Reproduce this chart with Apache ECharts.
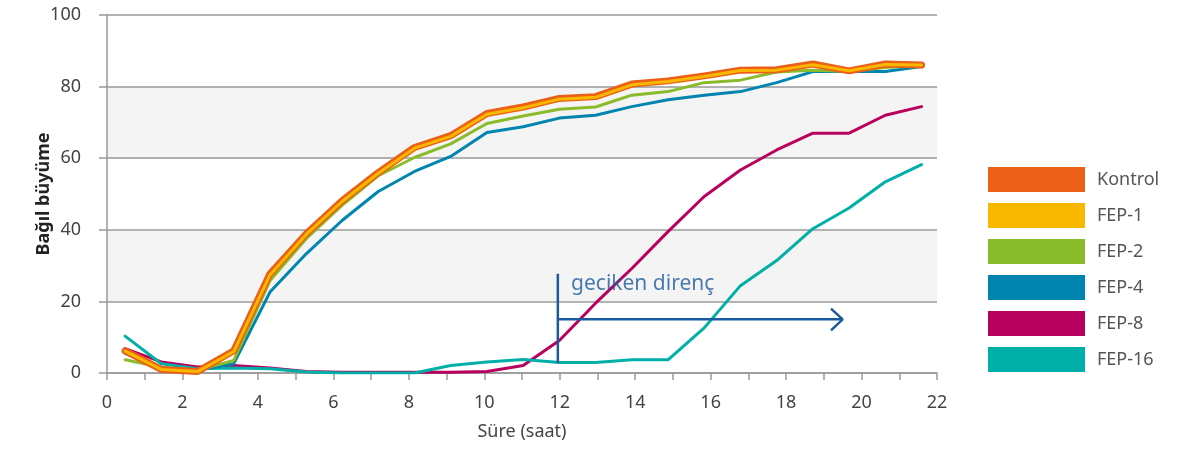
<!DOCTYPE html>
<html>
<head>
<meta charset="utf-8">
<script src="https://cdn.jsdelivr.net/npm/echarts@6/dist/echarts.min.js"></script>
<style>
  html, body { margin: 0; padding: 0; background: #fff; }
  #chart { width: 1182px; height: 450px; }
</style>
</head>
<body>
<div id="chart"></div>
<script>
// sampling times (hours)
const times = [0.48, 1.44, 2.4, 3.36, 4.32, 5.28, 6.23, 7.19, 8.15, 9.11, 10.07, 11.03,
  11.99, 12.95, 13.91, 14.87, 15.83, 16.79, 17.75, 18.71, 19.67, 20.63, 21.59];

const kontrol = [6.2, 1.0, 0.4, 6.2, 27.7, 38.9, 48.1, 56.0, 63.0, 66.3, 72.5, 74.3,
  76.7, 77.2, 80.7, 81.6, 83.0, 84.6, 84.7, 86.3, 84.4, 86.3, 86.0];
const fep1 = [6.1, 1.0, 0.4, 6.0, 27.4, 38.7, 47.9, 55.8, 62.8, 66.1, 72.3, 74.1,
  76.5, 77.0, 80.5, 81.4, 82.8, 84.5, 84.6, 86.1, 84.4, 86.2, 86.0];
const fep2 = [3.7, 1.6, 0.8, 3.5, 25.8, 37.5, 46.8, 55.1, 60.2, 64.0, 69.7, 71.8,
  73.7, 74.3, 77.6, 78.6, 81.1, 81.8, 84.1, 84.6, 84.2, 85.3, 85.8];
const fep4 = [5.5, 1.5, 0.8, 2.6, 22.6, 33.3, 42.6, 50.7, 56.3, 60.5, 67.2, 68.8,
  71.2, 72.0, 74.4, 76.3, 77.6, 78.6, 81.1, 84.2, 84.2, 84.2, 85.6];
const fep8 = [6.8, 3.1, 1.7, 2.1, 1.4, 0.4, 0.2, 0.2, 0.2, 0.2, 0.4, 2.1,
  9.1, 19.5, 29.2, 39.5, 49.3, 56.7, 62.3, 67.0, 67.0, 72.0, 74.4];
const fep16 = [10.3, 2.6, 1.2, 1.4, 1.2, 0.3, 0.0, 0.0, 0.0, 2.1, 3.1, 3.8,
  2.9, 2.9, 3.7, 3.7, 12.6, 24.4, 31.4, 40.3, 46.1, 53.4, 58.2];

const seriesNames = ['Kontrol', 'FEP-1', 'FEP-2', 'FEP-4', 'FEP-8', 'FEP-16'];
const xTicks = [0, 2, 4, 6, 8, 10, 12, 14, 16, 18, 20, 22];
const yTicks = [0, 20, 40, 60, 80, 100];

// "geciken direnç" annotation, in data units
const annStart = [[11.95, 27.7], [11.95, 2.7]];
const annArrow = [[11.95, 15.0], [19.5, 15.0]];
const annHead = [[19.19, 18.0], [19.5, 15.0], [19.19, 11.9]];
const annLabel = [[12.3, 24.8]];
const annText = 'geciken direnç';

const pairs = (ys) => ys.map((v, i) => [times[i], v]);

const colors = {
  'Kontrol': '#EC5F16',
  'FEP-1': '#F9B800',
  'FEP-2': '#8ABB2A',
  'FEP-4': '#0084B0',
  'FEP-8': '#B8005E',
  'FEP-16': '#00AFA8'
};
const annColor = '#1B5A9C';
const font = '"Noto Sans", "Open Sans", sans-serif';

function lineSeries(name, ys, width) {
  return {
    name: name,
    type: 'line',
    data: pairs(ys),
    showSymbol: false,
    symbol: 'none',
    silent: true,
    itemStyle: { color: colors[name] },
    lineStyle: { color: colors[name], width: width, cap: 'round', join: 'round' }
  };
}

function annLine(data) {
  return {
    type: 'line',
    data: data,
    symbol: 'none',
    silent: true,
    z: 5,
    lineStyle: { color: annColor, width: 2.5 }
  };
}

const chart = echarts.init(document.getElementById('chart'));

chart.setOption({
  animation: false,
  backgroundColor: '#fff',
  grid: { left: 107, right: 245, top: 15, bottom: 77 },
  legend: {
    data: seriesNames,
    orient: 'vertical',
    left: 988,
    top: 167,
    padding: 0,
    icon: 'rect',
    itemWidth: 97,
    itemHeight: 25,
    itemGap: 11,
    selectedMode: false,
    textStyle: { fontFamily: font, fontSize: 18, color: '#555', padding: [0, 0, 0, 7] }
  },
  xAxis: {
    type: 'value',
    min: 0,
    max: 22,
    interval: 1,
    name: 'Süre (saat)',
    nameLocation: 'middle',
    nameGap: 50,
    nameMoveOverlap: false,
    nameTextStyle: { fontFamily: font, fontSize: 18, color: '#444', verticalAlign: 'top' },
    axisLine: { lineStyle: { color: '#999', width: 1.5 } },
    axisTick: { show: true, length: 7, lineStyle: { color: '#999', width: 1.5 } },
    axisLabel: {
      fontFamily: font,
      fontSize: 18,
      color: '#444',
      margin: 21,
      formatter: (v) => (xTicks.indexOf(v) >= 0 ? String(v) : '')
    },
    splitLine: { show: false }
  },
  yAxis: {
    type: 'value',
    min: 0,
    max: 100,
    interval: 20,
    name: 'Bağıl büyüme',
    nameLocation: 'middle',
    nameGap: 54,
    nameMoveOverlap: false,
    nameTextStyle: { fontFamily: font, fontSize: 18, fontWeight: 'bold', color: '#222' },
    axisLine: { show: true, lineStyle: { color: '#999', width: 1.5 } },
    axisTick: { show: true, length: 8, lineStyle: { color: '#999', width: 1.5 } },
    axisLabel: {
      fontFamily: font,
      fontSize: 18,
      color: '#444',
      margin: 26,
      formatter: (v) => (yTicks.indexOf(v) >= 0 ? String(v) : '')
    },
    splitLine: { show: true, lineStyle: { color: '#9a9a9a', width: 1.5 } },
    splitArea: { show: true, areaStyle: { color: ['#ffffff', '#f4f4f4'] } }
  },
  series: [
    lineSeries('FEP-8', fep8, 3),
    lineSeries('FEP-16', fep16, 3),
    lineSeries('FEP-4', fep4, 3),
    lineSeries('FEP-2', fep2, 3),
    lineSeries('Kontrol', kontrol, 7),
    lineSeries('FEP-1', fep1, 3),
    annLine(annStart),
    annLine(annArrow),
    annLine(annHead),
    {
      type: 'scatter',
      data: annLabel,
      symbolSize: 0,
      silent: true,
      z: 6,
      label: {
        show: true,
        position: 'right',
        distance: 0,
        formatter: annText,
        fontFamily: font,
        fontSize: 21,
        color: annColor
      }
    }
  ]
});
</script>
</body>
</html>
